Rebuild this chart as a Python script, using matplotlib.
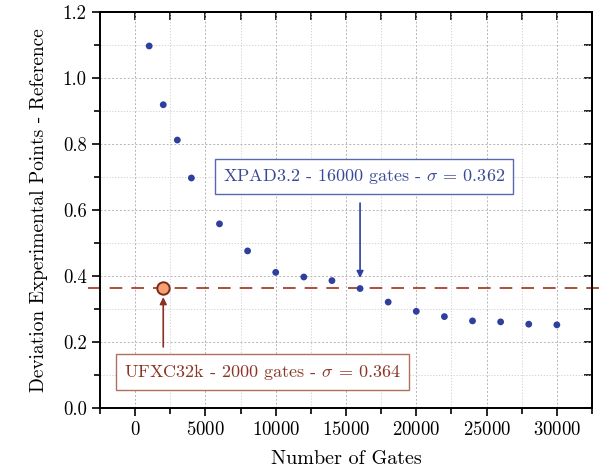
import matplotlib
matplotlib.use("Agg")
import matplotlib.pyplot as plt
from matplotlib.ticker import MultipleLocator
import matplotlib.transforms as mtransforms

gates = [1000, 2000, 3000, 4000, 6000, 8000, 10000, 12000, 14000, 16000,
         18000, 20000, 22000, 24000, 26000, 28000, 30000]
deviation = [1.097, 0.919, 0.812, 0.697, 0.558, 0.476, 0.411, 0.397, 0.386, 0.362,
             0.321, 0.293, 0.277, 0.264, 0.261, 0.254, 0.252]
ufxc_gates = [2000]
ufxc_sigma = [0.364]
xpad_gates = 16000
xpad_sigma = 0.362

plt.rcParams['font.family'] = ['cmr10', 'DejaVu Serif']
plt.rcParams['mathtext.fontset'] = 'cm'
plt.rcParams['axes.formatter.use_mathtext'] = True

fig = plt.figure(figsize=(5.99, 4.72), dpi=100)
ax = fig.add_axes([100/599, 1-408/472, 492/599, 396/472])

blue = '#2f3f9e'
red = '#a8402a'

ax.set_xlim(-2500, 32500)
ax.set_ylim(0, 1.2)
ax.xaxis.set_major_locator(MultipleLocator(5000))
ax.xaxis.set_minor_locator(MultipleLocator(2500))
ax.yaxis.set_major_locator(MultipleLocator(0.2))
ax.yaxis.set_minor_locator(MultipleLocator(0.1))
ax.yaxis.set_major_formatter(matplotlib.ticker.FormatStrFormatter('%.1f'))

ax.grid(which='major', color='#b4b4b4', linestyle=(0, (2, 2)), linewidth=0.7)
ax.grid(which='minor', color='#cccccc', linestyle=(0, (1.5, 2)), linewidth=0.6)
ax.set_axisbelow(True)

ax.tick_params(which='both', direction='out', top=False, right=False, width=1.2, labelsize=13.5)
ax.tick_params(which='major', length=6)
ax.tick_params(which='minor', length=4)
sec_x = ax.secondary_xaxis('top')
sec_x.xaxis.set_major_locator(MultipleLocator(2500))
sec_x.tick_params(direction='in', length=6, width=1.2, labeltop=False)
sec_y = ax.secondary_yaxis('right')
sec_y.yaxis.set_major_locator(MultipleLocator(0.1))
sec_y.tick_params(direction='in', length=6, width=1.2, labelright=False)
for s in ax.spines.values():
    s.set_linewidth(1.4)
sec_x.spines['top'].set_linewidth(1.4)
sec_y.spines['right'].set_linewidth(1.4)

trans = mtransforms.blended_transform_factory(ax.transAxes, ax.transData)
ax.plot([-0.025, 1.02], [ufxc_sigma[0], ufxc_sigma[0]], transform=trans, color=red,
        linestyle=(0, (7, 5)), linewidth=1.3, clip_on=False, zorder=2)

ax.scatter(gates, deviation, s=24, color=blue, zorder=3, edgecolors='none')
ax.scatter(ufxc_gates, ufxc_sigma, s=80, color='#f4a070', edgecolors='#7a2a1a', linewidths=1.4, zorder=4)

ax.text(6250, 0.701, 'XPAD3.2 - 16000 gates - $\\sigma$ = 0.362', color='#3a4898', fontsize=13,
        ha='left', va='center',
        bbox=dict(boxstyle='square,pad=0.45', fc='white', ec='#5a68b0', lw=1.0))
ax.annotate('', xy=(xpad_gates, 0.394), xytext=(xpad_gates, 0.621),
            arrowprops=dict(arrowstyle='-|>', color=blue, lw=1.2, shrinkA=0, shrinkB=0,
                            mutation_scale=10))

ax.text(-780, 0.109, 'UFXC32k - 2000 gates - $\\sigma$ = 0.364', color='#8a3525', fontsize=13,
        ha='left', va='center',
        bbox=dict(boxstyle='square,pad=0.45', fc='white', ec='#b07060', lw=1.0))
ax.annotate('', xy=(ufxc_gates[0], 0.336), xytext=(ufxc_gates[0], 0.185),
            arrowprops=dict(arrowstyle='-|>', color='#8a3020', lw=1.2, shrinkA=0, shrinkB=0,
                            mutation_scale=10))

ax.set_xlabel('Number of Gates', fontsize=14.5, labelpad=8)
ax.set_ylabel('Deviation Experimental Points - Reference', fontsize=14, labelpad=11)

fig.savefig('out.png', dpi=100)
